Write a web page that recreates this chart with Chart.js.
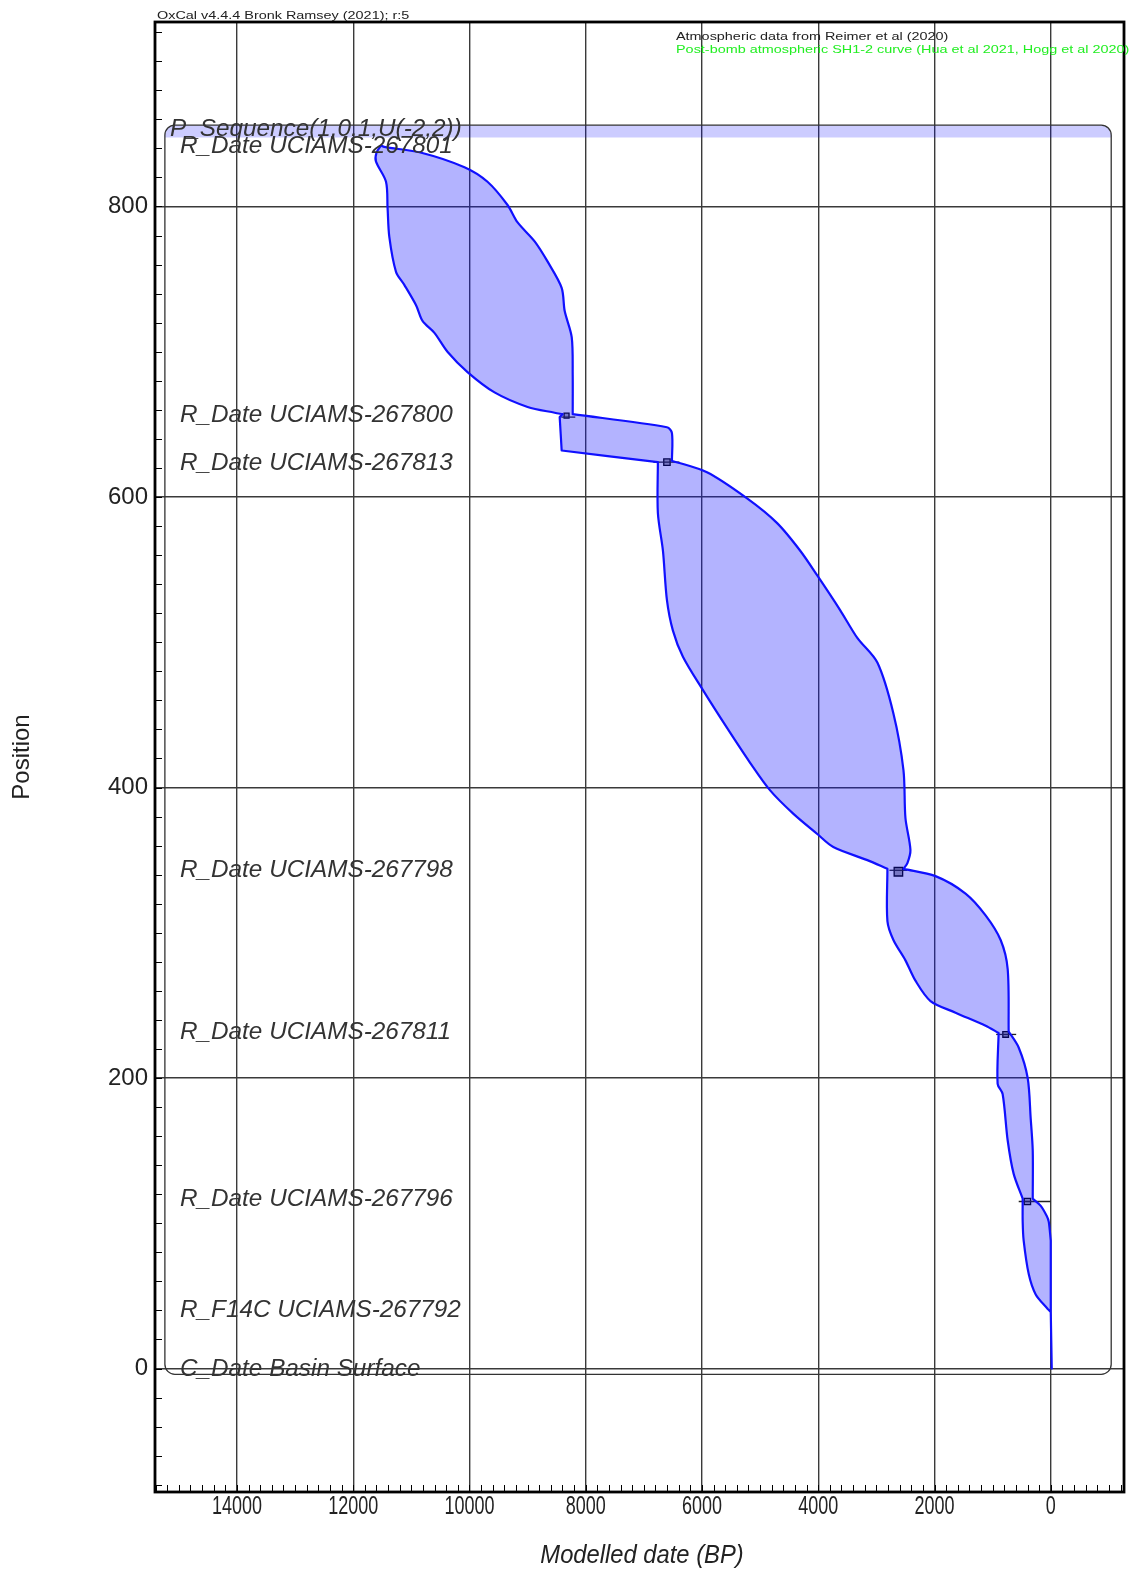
<!DOCTYPE html>
<html><head><meta charset="utf-8">
<script src="https://cdn.jsdelivr.net/npm/chart.js@4.4.1/dist/chart.umd.min.js"></script>
<style>html,body{margin:0;padding:0;background:#fff}canvas{display:block}</style>
</head><body>
<canvas id="c" width="1135" height="1572"></canvas>
<script>
// ---- data ----
const xTickValues = [0, 2000, 4000, 6000, 8000, 10000, 12000, 14000];
const yTickValues = [0, 200, 400, 600, 800];
const sampleNames = ["R_Date UCIAMS-267801", "R_Date UCIAMS-267800", "R_Date UCIAMS-267813",
  "R_Date UCIAMS-267798", "R_Date UCIAMS-267811", "R_Date UCIAMS-267796",
  "R_F14C UCIAMS-267792", "C_Date Basin Surface"];
const samplePositions = [842, 657, 624, 344, 232, 117, 41, 0];
const sequenceName = "P_Sequence(1,0.1,U(-2,2))";
const sequenceSpan = [15240, -1040, 856, -4]; // oldest, youngest, top position, bottom position
const sequenceBandBottom = 847.5;

// envelope (95% range) older boundary, top -> bottom
const leftDates = [11520, 11600, 11609, 11436, 11409, 11379, 11264, 11121, 10919, 10805, 10603, 10379, 10034, 9569, 9000, 8534, 8397, 8448, 8414,
  6759, 6759, 6672, 6603, 6500, 6328, 5983, 5569, 5172, 4828, 4431, 4017, 3741, 3155, 2810,
  2810, 2707, 2500, 2328, 2069, 1638, 1121, 897,
  914, 828, 741, 638, 483, 483, 466, 379, 259, 52, 0, -17];
const leftPos = [842, 837, 831, 817, 799, 779, 755, 746, 732, 721, 713, 700, 686, 672, 662, 658, 657, 655, 632,
  624, 589, 563, 529, 508, 490, 467, 441, 417, 398, 382, 368, 359, 350, 344,
  308, 295, 281, 267, 253, 245, 236, 231,
  196, 189, 157, 134, 117, 101, 88, 65, 51, 41, 39, 0];
const leftCorners = [16, 17, 18, 19, 33, 41, 46, 51, 52];
// younger boundary, top -> bottom
const rightDates = [11520, 11466, 10828, 10086, 9690, 9345, 9172, 8879, 8655, 8414, 8362, 8241, 8224, 8224, 6603, 6517, 6517,
  5914, 5224, 4707, 4310, 4017, 3621, 3328, 2983, 2707, 2534, 2500, 2414, 2466, 2534,
  1983, 1466, 1121, 862, 741, 724,
  552, 397, 345, 310, 310, 172, 69, 34, 0, 0, -17];
const rightPos = [842, 841, 837, 827, 817, 801, 789, 776, 762, 744, 728, 710, 684, 657, 648, 644, 625,
  617, 599, 582, 563, 546, 522, 503, 486, 451, 412, 379, 357, 348, 344,
  339, 327, 312, 295, 275, 232,
  221, 200, 172, 150, 117, 112, 105, 101, 88, 39, 0];
const rightCorners = [13, 16, 30, 36, 41, 45, 46];
// small markers at the dated levels
const markerDates = [8330, 6603, 2621, 776, 402];
const markerPos = [656, 624, 342, 230, 115];
const rangeBarDates = [8300, 6612, 2620, 767, 276];
const rangeBarPos = [655, 624, 343, 230, 115];

// ---- build ----
const polygon = [];
leftDates.forEach((d, i) => {
  polygon.push({x: d, y: leftPos[i]});
  if (leftCorners.includes(i)) polygon.push({x: d, y: leftPos[i]});
});
for (let i = rightDates.length - 1; i >= 0; i--) {
  polygon.push({x: rightDates[i], y: rightPos[i]});
  if (rightCorners.includes(i)) polygon.push({x: rightDates[i], y: rightPos[i]});
}
const markers = markerDates.map((d, i) => ({x: d, y: markerPos[i]}));
const rangeBars = rangeBarDates.map((d, i) => ({x: d, y: rangeBarPos[i]}));

const SANS = '"Liberation Sans", Arial, sans-serif';
const LABEL_FONT = 'italic 24.3px ' + SANS;

function stretchedText(ctx, text, x, y, sx) {
  ctx.save(); ctx.translate(x, y); ctx.scale(sx, 1); ctx.fillText(text, 0, 0); ctx.restore();
}

const decor = {
  id: 'decor',
  beforeDatasetsDraw(chart) {
    const {ctx, scales: {x, y}} = chart;
    const x0 = x.getPixelForValue(sequenceSpan[0]), x1 = x.getPixelForValue(sequenceSpan[1]);
    const y0 = y.getPixelForValue(sequenceSpan[2]), y1 = y.getPixelForValue(sequenceSpan[3]);
    const yb = y.getPixelForValue(sequenceBandBottom);
    const r = 10;
    ctx.save();
    ctx.beginPath();
    ctx.moveTo(x0, yb); ctx.lineTo(x0, y0 + r); ctx.arcTo(x0, y0, x0 + r, y0, r);
    ctx.lineTo(x1 - r, y0); ctx.arcTo(x1, y0, x1, y0 + r, r); ctx.lineTo(x1, yb); ctx.closePath();
    ctx.fillStyle = 'rgba(0,0,255,0.2)'; ctx.fill();
    ctx.beginPath();
    ctx.moveTo(x0 + r, y0); ctx.lineTo(x1 - r, y0); ctx.arcTo(x1, y0, x1, y0 + r, r);
    ctx.lineTo(x1, y1 - r); ctx.arcTo(x1, y1, x1 - r, y1, r); ctx.lineTo(x0 + r, y1);
    ctx.arcTo(x0, y1, x0, y1 - r, r); ctx.lineTo(x0, y0 + r); ctx.arcTo(x0, y0, x0 + r, y0, r);
    ctx.strokeStyle = '#333'; ctx.lineWidth = 1.3; ctx.stroke();
    ctx.restore();
  },
  afterDatasetsDraw(chart) {
    const {ctx, chartArea: a, scales: {x, y}} = chart;
    ctx.save();
    ctx.font = LABEL_FONT; ctx.fillStyle = '#333'; ctx.textBaseline = 'middle'; ctx.textAlign = 'left';
    ctx.fillText(sequenceName, a.left + 15, y.getPixelForValue(sequenceSpan[2]) + 4);
    sampleNames.forEach((n, i) => ctx.fillText(n, a.left + 25, y.getPixelForValue(samplePositions[i]) + 1));
    ctx.restore();
  },
  afterDraw(chart) {
    const {ctx, chartArea: a, scales: {x, y}} = chart;
    ctx.save();
    // minor ticks
    ctx.strokeStyle = '#000'; ctx.lineWidth = 1;
    ctx.beginPath();
    for (let v = -80; v <= 920; v += 20) {
      const py = Math.round(y.getPixelForValue(v)) + 0.5;
      ctx.moveTo(a.left, py); ctx.lineTo(a.left + 7, py);
    }
    for (let v = -1200; v <= 15400; v += 200) {
      const px = Math.round(x.getPixelForValue(v)) + 0.5;
      ctx.moveTo(px, a.bottom); ctx.lineTo(px, a.bottom - 7);
    }
    ctx.stroke();
    // frame
    ctx.lineWidth = 2.8; ctx.strokeStyle = '#000';
    ctx.strokeRect(a.left, a.top, a.right - a.left, a.bottom - a.top);
    // x tick labels (condensed, as in the original)
    ctx.fillStyle = '#222'; ctx.textAlign = 'center'; ctx.textBaseline = 'top';
    ctx.font = '25px ' + SANS;
    xTickValues.forEach(v => stretchedText(ctx, String(v), x.getPixelForValue(v), a.bottom + 3, 0.72));
    // header texts
    ctx.textBaseline = 'alphabetic'; ctx.textAlign = 'left';
    ctx.font = '11px ' + SANS; ctx.fillStyle = '#222';
    stretchedText(ctx, 'OxCal v4.4.4 Bronk Ramsey (2021); r:5', 157, 19, 1.31);
    stretchedText(ctx, 'Atmospheric data from Reimer et al (2020)', 676, 40, 1.31);
    ctx.fillStyle = '#22ee22';
    stretchedText(ctx, 'Post-bomb atmospheric SH1-2 curve (Hua et al 2021, Hogg et al 2020)', 676, 53, 1.31);
    // axis titles
    ctx.fillStyle = '#222';
    ctx.textAlign = 'center'; ctx.textBaseline = 'middle';
    ctx.font = 'italic 25px ' + SANS;
    stretchedText(ctx, 'Modelled date (BP)', 642, 1556, 0.95);
    ctx.translate(22, 757); ctx.rotate(-Math.PI / 2);
    ctx.font = '24px ' + SANS;
    ctx.fillText('Position', 0, 0);
    ctx.restore();
  }
};

new Chart(document.getElementById('c'), {
  type: 'scatter',
  data: {
    datasets: [
      {
        data: polygon, showLine: true, fill: 'shape', tension: 0.3,
        borderColor: '#1010ff', borderWidth: 2.2, borderJoinStyle: 'round',
        backgroundColor: 'rgba(20,20,255,0.32)', pointRadius: 0
      },
      {
        data: rangeBars, showLine: false, pointStyle: 'line', pointRadius: [7, 13, 9, 10, 16],
        borderColor: '#222', borderWidth: 1.3
      },
      {
        data: markers, showLine: false, pointStyle: 'rect', pointRadius: [3.5, 4.5, 6, 4, 4.5],
        borderColor: '#000', borderWidth: 1.3, backgroundColor: 'rgba(0,0,0,0.35)'
      }
    ]
  },
  options: {
    responsive: false, animation: false, devicePixelRatio: 1,
    layout: {autoPadding: false, padding: {top: 22, right: 11, left: 0, bottom: 0}},
    plugins: {legend: {display: false}, tooltip: {enabled: false}},
    scales: {
      x: {
        type: 'linear', reverse: true, min: -1260, max: 15410,
        afterBuildTicks: s => { s.ticks = xTickValues.map(v => ({value: v})); },
        afterFit: s => { s.height = 80; },
        grid: {color: '#3a3a3a', lineWidth: 1.4, drawTicks: false},
        border: {display: false},
        ticks: {display: false}
      },
      y: {
        type: 'linear', min: -85, max: 927,
        afterBuildTicks: s => { s.ticks = yTickValues.map(v => ({value: v})); },
        afterFit: s => { s.width = 155; },
        grid: {color: '#3a3a3a', lineWidth: 1.4, drawTicks: false},
        border: {display: false},
        ticks: {padding: 7, color: '#222', font: {family: SANS, size: 24},
          callback: v => String(v)}
      }
    }
  },
  plugins: [decor]
});
</script>
</body></html>
